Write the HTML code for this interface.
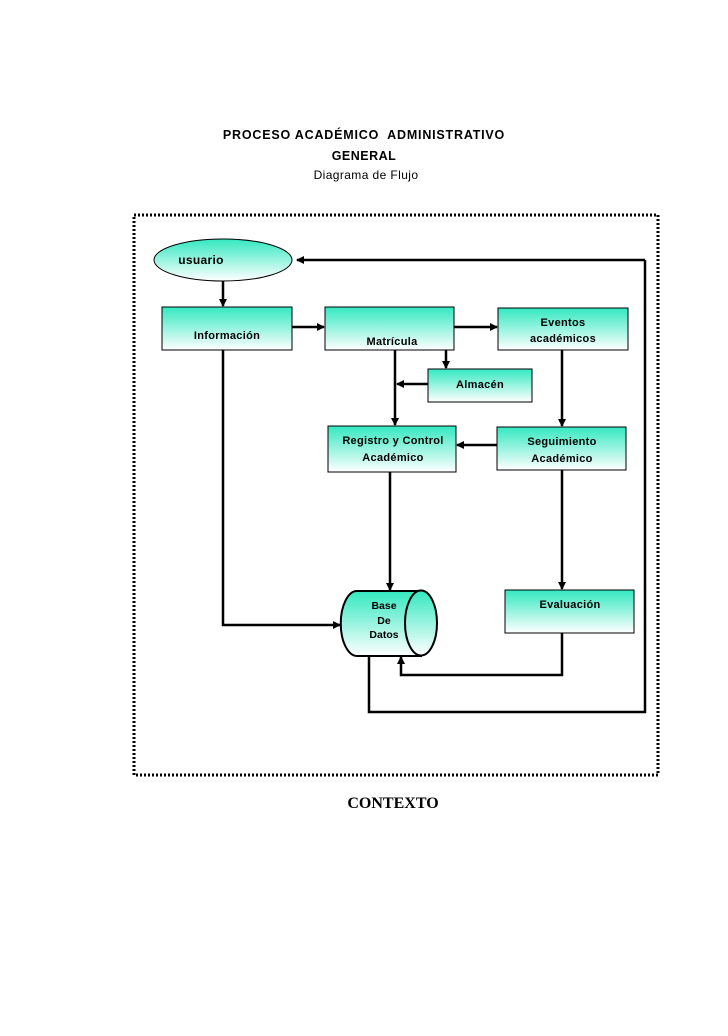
<!DOCTYPE html>
<html><head><meta charset="utf-8"><style>
html,body{margin:0;padding:0;background:#fff;}
svg text{font-family:"Liberation Sans",sans-serif;}
</style></head><body>
<svg width="728" height="1031" viewBox="0 0 728 1031" xmlns="http://www.w3.org/2000/svg">
<defs>
<linearGradient id="g" x1="0" y1="0" x2="0" y2="1">
<stop offset="0" stop-color="#33e8c0"/><stop offset="1" stop-color="#ffffff"/>
</linearGradient>
<marker id="a" markerWidth="8" markerHeight="8" refX="7" refY="4" orient="auto" markerUnits="userSpaceOnUse">
<path d="M0,0 L8,4 L0,8 z" fill="#000"/></marker>
</defs>
<text x="364" y="139" text-anchor="middle" font-size="12.5" font-weight="bold" letter-spacing="0.8" xml:space="preserve">PROCESO ACADÉMICO  ADMINISTRATIVO</text>
<text x="364" y="160" text-anchor="middle" font-size="12.5" font-weight="bold" letter-spacing="0.5">GENERAL</text>
<text x="366" y="179" text-anchor="middle" font-size="12" letter-spacing="0.4">Diagrama de Flujo</text>
<rect x="134" y="215" width="524" height="560" fill="none" stroke="#000" stroke-width="3" stroke-dasharray="2,2"/>
<g stroke="#000" stroke-width="1">
<ellipse cx="223" cy="260" rx="69" ry="21" fill="url(#g)"/>
<rect x="162" y="307" width="130" height="43" fill="url(#g)"/>
<rect x="325" y="307" width="129" height="43" fill="url(#g)"/>
<rect x="498" y="308" width="130" height="42" fill="url(#g)"/>
<rect x="428" y="369" width="104" height="33" fill="url(#g)"/>
<rect x="328" y="426" width="128" height="46" fill="url(#g)"/>
<rect x="497" y="427" width="129" height="43" fill="url(#g)"/>
<rect x="505" y="590" width="129" height="43" fill="url(#g)"/>
</g>
<g stroke="#000" stroke-width="2" fill="url(#g)">
<path d="M421,591 L357,591 A16,32 0 0 0 357,656 L421,656 Z"/>
<ellipse cx="421" cy="623" rx="16" ry="32.5"/>
</g>
<g stroke="#000" stroke-width="2.5" fill="none">
<path d="M645,260 L297,260" marker-end="url(#a)"/>
<path d="M645,260 L645,712 L369,712 L369,656"/>
<path d="M223,281 L223,306" marker-end="url(#a)"/>
<path d="M292,327 L324,327" marker-end="url(#a)"/>
<path d="M454,327 L497,327" marker-end="url(#a)"/>
<path d="M446,350 L446,368" marker-end="url(#a)"/>
<path d="M395,350 L395,425" marker-end="url(#a)"/>
<path d="M428,384 L397,384" marker-end="url(#a)"/>
<path d="M562,350 L562,426" marker-end="url(#a)"/>
<path d="M497,445 L457,445" marker-end="url(#a)"/>
<path d="M390,472 L390,590" marker-end="url(#a)"/>
<path d="M562,470 L562,589" marker-end="url(#a)"/>
<path d="M223,350 L223,625 L340,625" marker-end="url(#a)"/>
<path d="M562,633 L562,675 L401,675 L401,657" marker-end="url(#a)"/>
</g>
<g font-size="11" font-weight="bold" text-anchor="middle" letter-spacing="0.3">
<text x="201" y="264" font-size="12">usuario</text>
<text x="227" y="339">Información</text>
<text x="392" y="345">Matrícula</text>
<text x="563" y="326">Eventos</text>
<text x="563" y="342">académicos</text>
<text x="480" y="388">Almacén</text>
<text x="393" y="444">Registro y Control</text>
<text x="393" y="461">Académico</text>
<text x="562" y="445">Seguimiento</text>
<text x="562" y="462">Académico</text>
<text x="570" y="608">Evaluación</text>
</g>
<g font-size="10.5" font-weight="bold" text-anchor="middle">
<text x="384" y="609">Base</text>
<text x="384" y="624">De</text>
<text x="384" y="638">Datos</text>
</g>
<text x="393" y="808" text-anchor="middle" font-size="16" font-weight="bold" style="font-family:'Liberation Serif',serif">CONTEXTO</text>
</svg>
</body></html>
